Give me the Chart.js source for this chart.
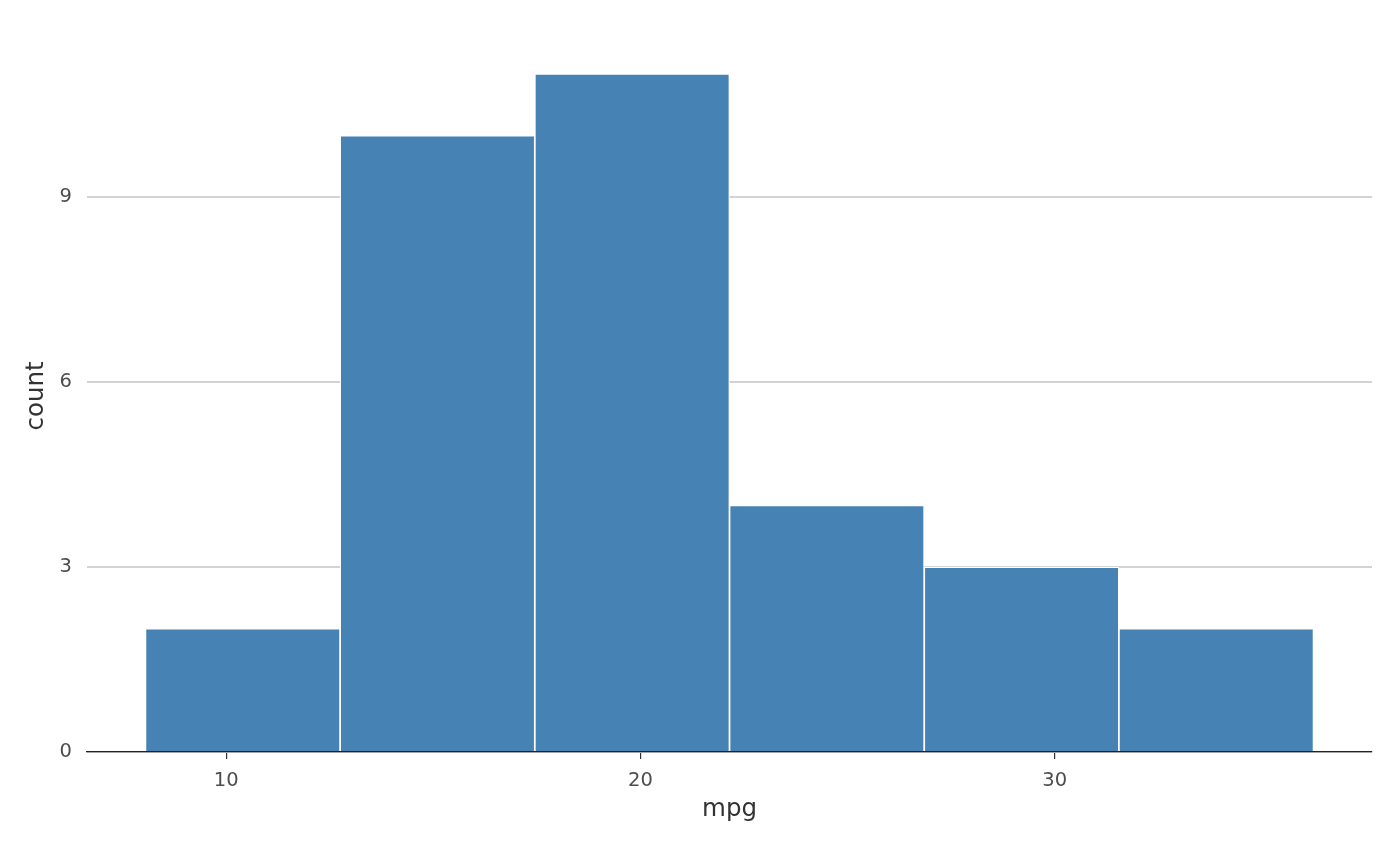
<!DOCTYPE html>
<html>
<head>
<meta charset="utf-8">
<script src="https://cdn.jsdelivr.net/npm/chart.js@4"></script>
<style>
html,body{margin:0;padding:0;background:#fff;}
#wrap{width:1400px;height:866px;}
</style>
</head>
<body>
<div id="wrap"><canvas id="c" width="1400" height="866"></canvas></div>
<script>
// Histogram of mtcars mpg, 6 bins (width 4.7)
const binCenters = [10.4, 15.1, 19.8, 24.5, 29.2, 33.9];
const counts = [2, 10, 11, 4, 3, 2];
const xTicks = [10, 20, 30];
const yTicks = [0, 3, 6, 9];
const binWidth = 4.7;

const xMin = binCenters[0] - binWidth / 2;
const xMax = binCenters[binCenters.length - 1] + binWidth / 2;
const xPad = (xMax - xMin) * 0.05;
const yMax = Math.max(...counts) * 1.05;

const PL = 10, PR = 28, PT = 40, PB = 30;

new Chart(document.getElementById('c'), {
  type: 'bar',
  data: {
    datasets: [{
      data: binCenters.map((x, i) => ({x: x, y: counts[i]})),
      backgroundColor: '#4682B4',
      borderColor: '#ffffff',
      borderWidth: 1.2,
      borderSkipped: 'start',
      barPercentage: 1,
      categoryPercentage: 1
    }]
  },
  options: {
    responsive: false,
    animation: false,
    devicePixelRatio: 1,
    layout: {padding: {left: PL, right: PR, top: PT, bottom: PB}},
    plugins: {legend: {display: false}, tooltip: {enabled: false}},
    scales: {
      x: {
        type: 'linear',
        offset: false,
        min: xMin - xPad,
        max: xMax + xPad,
        z: 1,
        afterBuildTicks: s => { s.ticks = xTicks.map(v => ({value: v})); },
        afterFit: s => { s.height = 866 - PB - 752; },
        grid: {display: true, offset: false, drawOnChartArea: false, drawTicks: true, tickLength: 7, color: '#333333', lineWidth: 1.2},
        border: {display: true, color: '#222222', width: 1.3},
        ticks: {color: '#4d4d4d', font: {family: 'DejaVu Sans', size: 19.5}, padding: 10, maxRotation: 0},
        title: {display: true, text: 'mpg', color: '#333333', font: {family: 'DejaVu Sans', size: 24.5}, padding: {top: 0, bottom: 12}}
      },
      y: {
        type: 'linear',
        min: 0,
        max: yMax,
        afterBuildTicks: s => { s.ticks = yTicks.map(v => ({value: v})); },
        afterFit: s => { s.width = 87 - PL; },
        grid: {display: true, drawTicks: false, color: '#d3d3d3', lineWidth: 2},
        border: {display: false},
        ticks: {color: '#4d4d4d', font: {family: 'DejaVu Sans', size: 19.5}, padding: 15},
        title: {display: true, text: 'count', color: '#333333', font: {family: 'DejaVu Sans', size: 24.5}, padding: {top: 12, bottom: 0}}
      }
    }
  }
});
</script>
</body>
</html>
